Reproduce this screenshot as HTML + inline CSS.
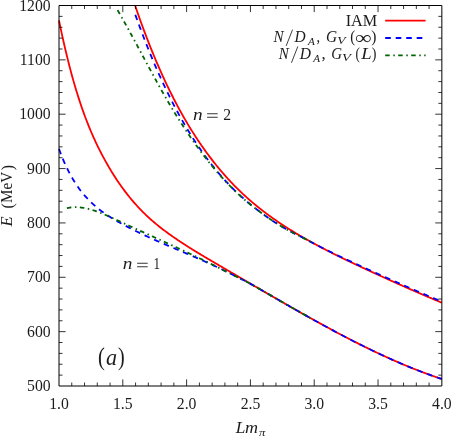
<!DOCTYPE html>
<html><head><meta charset="utf-8"><style>
html,body{margin:0;padding:0;background:#fff;}
svg{display:block;will-change:transform;}
text{font-family:"Liberation Serif",serif;font-size:15.7px;fill:#1c1c1c;}
.i{font-style:italic;}
  .s{font-size:11px;font-style:italic;}
</style></head><body>
<svg width="453" height="436" viewBox="0 0 453 436">
<rect width="453" height="436" fill="#fff"/>
<g fill="none" stroke-width="1.8" stroke-linejoin="round">
<path d="M59.00,20.49 L59.96,25.14 L60.92,29.68 L61.88,34.13 L62.84,38.49 L63.80,42.75 L64.76,46.93 L65.72,51.01 L66.68,55.00 L67.64,58.91 L68.60,62.73 L69.55,66.47 L70.51,70.13 L71.47,73.70 L72.43,77.20 L73.39,80.62 L74.35,83.96 L75.31,87.23 L76.27,90.43 L77.23,93.56 L78.19,96.61 L79.15,99.60 L80.11,102.52 L81.07,105.38 L82.03,108.18 L82.99,110.91 L83.95,113.58 L84.91,116.20 L85.87,118.75 L86.83,121.26 L87.79,123.70 L88.75,126.10 L89.70,128.45 L90.66,130.74 L91.62,132.99 L92.58,135.20 L93.54,137.36 L94.50,139.47 L95.46,141.55 L96.42,143.58 L97.38,145.58 L98.34,147.54 L99.30,149.47 L100.26,151.36 L101.22,153.22 L102.18,155.05 L103.14,156.85 L104.10,158.63 L105.06,160.38 L106.02,162.10 L106.98,163.80 L107.94,165.47 L108.90,167.12 L109.85,168.75 L110.81,170.35 L111.77,171.92 L112.73,173.47 L113.69,175.00 L114.65,176.51 L115.61,177.99 L116.57,179.46 L117.53,180.90 L118.49,182.31 L119.45,183.71 L120.41,185.09 L121.37,186.44 L122.33,187.77 L123.29,189.09 L124.25,190.38 L125.21,191.66 L126.17,192.91 L127.13,194.15 L128.09,195.36 L129.05,196.56 L130.00,197.74 L130.96,198.91 L131.92,200.05 L132.88,201.18 L133.84,202.29 L134.80,203.38 L135.76,204.46 L136.72,205.52 L137.68,206.57 L138.64,207.60 L139.60,208.61 L140.56,209.61 L141.52,210.60 L142.48,211.57 L143.44,212.53 L144.40,213.47 L145.36,214.40 L146.32,215.32 L147.28,216.22 L148.24,217.11 L149.20,217.99 L150.15,218.86 L151.11,219.72 L152.07,220.56 L153.03,221.39 L153.99,222.22 L154.95,223.03 L155.91,223.83 L156.87,224.62 L157.83,225.40 L158.79,226.18 L159.75,226.94 L160.71,227.70 L161.67,228.45 L162.63,229.18 L163.59,229.92 L164.55,230.64 L165.51,231.36 L166.47,232.07 L167.43,232.77 L168.39,233.47 L169.35,234.16 L170.30,234.84 L171.26,235.52 L172.22,236.20 L173.18,236.87 L174.14,237.53 L175.10,238.19 L176.06,238.85 L177.02,239.50 L177.98,240.15 L178.94,240.79 L179.90,241.43 L180.86,242.07 L181.82,242.70 L182.78,243.33 L183.74,243.96 L184.70,244.58 L185.66,245.20 L186.62,245.81 L187.58,246.42 L188.54,247.03 L189.50,247.64 L190.45,248.24 L191.41,248.84 L192.37,249.44 L193.33,250.03 L194.29,250.62 L195.25,251.21 L196.21,251.80 L197.17,252.39 L198.13,252.97 L199.09,253.55 L200.05,254.13 L201.01,254.71 L201.97,255.28 L202.93,255.85 L203.89,256.43 L204.85,257.00 L205.81,257.57 L206.77,258.13 L207.73,258.70 L208.69,259.27 L209.65,259.83 L210.60,260.39 L211.56,260.96 L212.52,261.52 L213.48,262.08 L214.44,262.64 L215.40,263.20 L216.36,263.76 L217.32,264.32 L218.28,264.88 L219.24,265.44 L220.20,266.00 L221.16,266.56 L222.12,267.12 L223.08,267.68 L224.04,268.24 L225.00,268.80 L225.96,269.36 L226.92,269.92 L227.88,270.48 L228.84,271.04 L229.80,271.60 L230.75,272.16 L231.71,272.72 L232.67,273.28 L233.63,273.84 L234.59,274.40 L235.55,274.97 L236.51,275.53 L237.47,276.09 L238.43,276.65 L239.39,277.21 L240.35,277.77 L241.31,278.33 L242.27,278.89 L243.23,279.45 L244.19,280.01 L245.15,280.57 L246.11,281.13 L247.07,281.69 L248.03,282.25 L248.99,282.81 L249.95,283.37 L250.90,283.93 L251.86,284.49 L252.82,285.04 L253.78,285.60 L254.74,286.16 L255.70,286.72 L256.66,287.28 L257.62,287.84 L258.58,288.40 L259.54,288.95 L260.50,289.51 L261.46,290.07 L262.42,290.63 L263.38,291.18 L264.34,291.74 L265.30,292.30 L266.26,292.85 L267.22,293.41 L268.18,293.97 L269.14,294.52 L270.10,295.08 L271.05,295.63 L272.01,296.19 L272.97,296.74 L273.93,297.30 L274.89,297.85 L275.85,298.40 L276.81,298.96 L277.77,299.51 L278.73,300.06 L279.69,300.62 L280.65,301.17 L281.61,301.72 L282.57,302.27 L283.53,302.82 L284.49,303.37 L285.45,303.92 L286.41,304.47 L287.37,305.02 L288.33,305.57 L289.29,306.12 L290.25,306.67 L291.20,307.21 L292.16,307.76 L293.12,308.31 L294.08,308.85 L295.04,309.40 L296.00,309.94 L296.96,310.49 L297.92,311.03 L298.88,311.58 L299.84,312.12 L300.80,312.66 L301.76,313.20 L302.72,313.74 L303.68,314.28 L304.64,314.82 L305.60,315.36 L306.56,315.90 L307.52,316.44 L308.48,316.97 L309.44,317.51 L310.40,318.05 L311.35,318.58 L312.31,319.11 L313.27,319.65 L314.23,320.18 L315.19,320.71 L316.15,321.24 L317.11,321.77 L318.07,322.30 L319.03,322.83 L319.99,323.36 L320.95,323.89 L321.91,324.41 L322.87,324.94 L323.83,325.46 L324.79,325.98 L325.75,326.50 L326.71,327.03 L327.67,327.55 L328.63,328.07 L329.59,328.58 L330.55,329.10 L331.50,329.62 L332.46,330.13 L333.42,330.65 L334.38,331.16 L335.34,331.67 L336.30,332.18 L337.26,332.69 L338.22,333.20 L339.18,333.71 L340.14,334.22 L341.10,334.72 L342.06,335.23 L343.02,335.73 L343.98,336.23 L344.94,336.73 L345.90,337.23 L346.86,337.73 L347.82,338.23 L348.78,338.73 L349.74,339.22 L350.70,339.71 L351.65,340.21 L352.61,340.70 L353.57,341.19 L354.53,341.68 L355.49,342.16 L356.45,342.65 L357.41,343.13 L358.37,343.62 L359.33,344.10 L360.29,344.58 L361.25,345.06 L362.21,345.54 L363.17,346.01 L364.13,346.49 L365.09,346.96 L366.05,347.43 L367.01,347.90 L367.97,348.37 L368.93,348.84 L369.89,349.30 L370.85,349.77 L371.80,350.23 L372.76,350.69 L373.72,351.15 L374.68,351.61 L375.64,352.07 L376.60,352.52 L377.56,352.98 L378.52,353.43 L379.48,353.88 L380.44,354.33 L381.40,354.77 L382.36,355.22 L383.32,355.66 L384.28,356.10 L385.24,356.54 L386.20,356.98 L387.16,357.42 L388.12,357.85 L389.08,358.29 L390.04,358.72 L391.00,359.15 L391.95,359.57 L392.91,360.00 L393.87,360.42 L394.83,360.85 L395.79,361.27 L396.75,361.69 L397.71,362.10 L398.67,362.52 L399.63,362.93 L400.59,363.34 L401.55,363.75 L402.51,364.16 L403.47,364.56 L404.43,364.96 L405.39,365.37 L406.35,365.76 L407.31,366.16 L408.27,366.56 L409.23,366.95 L410.19,367.34 L411.15,367.73 L412.10,368.12 L413.06,368.50 L414.02,368.88 L414.98,369.27 L415.94,369.64 L416.90,370.02 L417.86,370.39 L418.82,370.77 L419.78,371.14 L420.74,371.50 L421.70,371.87 L422.66,372.23 L423.62,372.59 L424.58,372.95 L425.54,373.31 L426.50,373.66 L427.46,374.02 L428.42,374.37 L429.38,374.71 L430.34,375.06 L431.30,375.40 L432.25,375.74 L433.21,376.08 L434.17,376.42 L435.13,376.75 L436.09,377.08 L437.05,377.41 L438.01,377.74 L438.97,378.06 L439.93,378.38 L440.89,378.70 L441.85,379.02" stroke="#ff0000"/>
<path d="M135.20,5.84 L135.97,8.08 L136.74,10.31 L137.51,12.52 L138.27,14.71 L139.04,16.88 L139.81,19.04 L140.58,21.18 L141.35,23.30 L142.12,25.41 L142.89,27.50 L143.65,29.57 L144.42,31.63 L145.19,33.67 L145.96,35.69 L146.73,37.70 L147.50,39.69 L148.27,41.67 L149.03,43.63 L149.80,45.57 L150.57,47.50 L151.34,49.41 L152.11,51.31 L152.88,53.19 L153.65,55.05 L154.41,56.90 L155.18,58.74 L155.95,60.56 L156.72,62.37 L157.49,64.16 L158.26,65.93 L159.02,67.69 L159.79,69.44 L160.56,71.17 L161.33,72.89 L162.10,74.60 L162.87,76.29 L163.64,77.96 L164.40,79.63 L165.17,81.28 L165.94,82.91 L166.71,84.53 L167.48,86.14 L168.25,87.74 L169.02,89.32 L169.78,90.89 L170.55,92.44 L171.32,93.99 L172.09,95.52 L172.86,97.03 L173.63,98.54 L174.40,100.03 L175.16,101.51 L175.93,102.98 L176.70,104.43 L177.47,105.88 L178.24,107.31 L179.01,108.73 L179.78,110.14 L180.54,111.53 L181.31,112.92 L182.08,114.29 L182.85,115.65 L183.62,117.00 L184.39,118.34 L185.16,119.67 L185.92,120.99 L186.69,122.29 L187.46,123.59 L188.23,124.87 L189.00,126.15 L189.77,127.41 L190.54,128.66 L191.30,129.91 L192.07,131.14 L192.84,132.36 L193.61,133.57 L194.38,134.78 L195.15,135.97 L195.92,137.15 L196.68,138.32 L197.45,139.49 L198.22,140.64 L198.99,141.78 L199.76,142.92 L200.53,144.04 L201.29,145.16 L202.06,146.27 L202.83,147.37 L203.60,148.46 L204.37,149.54 L205.14,150.61 L205.91,151.67 L206.67,152.73 L207.44,153.77 L208.21,154.81 L208.98,155.84 L209.75,156.86 L210.52,157.88 L211.29,158.88 L212.05,159.88 L212.82,160.87 L213.59,161.85 L214.36,162.83 L215.13,163.79 L215.90,164.75 L216.67,165.70 L217.43,166.64 L218.20,167.58 L218.97,168.51 L219.74,169.43 L220.51,170.34 L221.28,171.24 L222.05,172.14 L222.81,173.03 L223.58,173.92 L224.35,174.79 L225.12,175.66 L225.89,176.53 L226.66,177.38 L227.43,178.23 L228.19,179.07 L228.96,179.91 L229.73,180.73 L230.50,181.56 L231.27,182.37 L232.04,183.18 L232.81,183.98 L233.57,184.78 L234.34,185.57 L235.11,186.35 L235.88,187.13 L236.65,187.90 L237.42,188.66 L238.19,189.42 L238.95,190.17 L239.72,190.92 L240.49,191.66 L241.26,192.39 L242.03,193.12 L242.80,193.84 L243.57,194.56 L244.33,195.27 L245.10,195.98 L245.87,196.68 L246.64,197.37 L247.41,198.06 L248.18,198.75 L248.94,199.43 L249.71,200.10 L250.48,200.77 L251.25,201.43 L252.02,202.09 L252.79,202.74 L253.56,203.39 L254.32,204.04 L255.09,204.68 L255.86,205.31 L256.63,205.94 L257.40,206.57 L258.17,207.19 L258.94,207.80 L259.70,208.41 L260.47,209.02 L261.24,209.62 L262.01,210.22 L262.78,210.82 L263.55,211.41 L264.32,211.99 L265.08,212.57 L265.85,213.15 L266.62,213.73 L267.39,214.30 L268.16,214.86 L268.93,215.43 L269.70,215.98 L270.46,216.54 L271.23,217.09 L272.00,217.64 L272.77,218.18 L273.54,218.73 L274.31,219.26 L275.08,219.80 L275.84,220.33 L276.61,220.86 L277.38,221.38 L278.15,221.90 L278.92,222.42 L279.69,222.94 L280.46,223.45 L281.22,223.96 L281.99,224.47 L282.76,224.98 L283.53,225.48 L284.30,225.98 L285.07,226.48 L285.84,226.97 L286.60,227.46 L287.37,227.95 L288.14,228.44 L288.91,228.92 L289.68,229.41 L290.45,229.89 L291.21,230.37 L291.98,230.84 L292.75,231.31 L293.52,231.79 L294.29,232.25 L295.06,232.72 L295.83,233.18 L296.59,233.65 L297.36,234.11 L298.13,234.57 L298.90,235.02 L299.67,235.47 L300.44,235.93 L301.21,236.38 L301.97,236.82 L302.74,237.27 L303.51,237.71 L304.28,238.15 L305.05,238.59 L305.82,239.03 L306.59,239.47 L307.35,239.90 L308.12,240.33 L308.89,240.76 L309.66,241.19 L310.43,241.62 L311.20,242.05 L311.97,242.47 L312.73,242.89 L313.50,243.31 L314.27,243.73 L315.04,244.15 L315.81,244.56 L316.58,244.97 L317.35,245.39 L318.11,245.80 L318.88,246.21 L319.65,246.61 L320.42,247.02 L321.19,247.42 L321.96,247.83 L322.73,248.23 L323.49,248.63 L324.26,249.03 L325.03,249.42 L325.80,249.82 L326.57,250.21 L327.34,250.61 L328.11,251.00 L328.87,251.39 L329.64,251.78 L330.41,252.17 L331.18,252.56 L331.95,252.94 L332.72,253.33 L333.48,253.71 L334.25,254.09 L335.02,254.48 L335.79,254.86 L336.56,255.24 L337.33,255.62 L338.10,255.99 L338.86,256.37 L339.63,256.75 L340.40,257.12 L341.17,257.50 L341.94,257.87 L342.71,258.24 L343.48,258.61 L344.24,258.98 L345.01,259.35 L345.78,259.72 L346.55,260.09 L347.32,260.46 L348.09,260.83 L348.86,261.19 L349.62,261.56 L350.39,261.92 L351.16,262.29 L351.93,262.65 L352.70,263.02 L353.47,263.38 L354.24,263.74 L355.00,264.10 L355.77,264.46 L356.54,264.83 L357.31,265.19 L358.08,265.55 L358.85,265.91 L359.62,266.27 L360.38,266.62 L361.15,266.98 L361.92,267.34 L362.69,267.70 L363.46,268.06 L364.23,268.42 L365.00,268.77 L365.76,269.13 L366.53,269.49 L367.30,269.84 L368.07,270.20 L368.84,270.55 L369.61,270.91 L370.38,271.26 L371.14,271.62 L371.91,271.97 L372.68,272.33 L373.45,272.68 L374.22,273.03 L374.99,273.39 L375.76,273.74 L376.52,274.09 L377.29,274.44 L378.06,274.80 L378.83,275.15 L379.60,275.50 L380.37,275.85 L381.13,276.20 L381.90,276.55 L382.67,276.90 L383.44,277.25 L384.21,277.60 L384.98,277.94 L385.75,278.29 L386.51,278.64 L387.28,278.99 L388.05,279.33 L388.82,279.68 L389.59,280.03 L390.36,280.37 L391.13,280.72 L391.89,281.07 L392.66,281.41 L393.43,281.76 L394.20,282.10 L394.97,282.44 L395.74,282.79 L396.51,283.13 L397.27,283.47 L398.04,283.82 L398.81,284.16 L399.58,284.50 L400.35,284.84 L401.12,285.18 L401.89,285.52 L402.65,285.86 L403.42,286.20 L404.19,286.54 L404.96,286.88 L405.73,287.22 L406.50,287.56 L407.27,287.90 L408.03,288.24 L408.80,288.57 L409.57,288.91 L410.34,289.25 L411.11,289.58 L411.88,289.92 L412.65,290.25 L413.41,290.59 L414.18,290.92 L414.95,291.26 L415.72,291.59 L416.49,291.93 L417.26,292.26 L418.03,292.59 L418.79,292.93 L419.56,293.26 L420.33,293.59 L421.10,293.92 L421.87,294.25 L422.64,294.58 L423.40,294.91 L424.17,295.24 L424.94,295.57 L425.71,295.90 L426.48,296.23 L427.25,296.56 L428.02,296.89 L428.78,297.22 L429.55,297.54 L430.32,297.87 L431.09,298.20 L431.86,298.52 L432.63,298.85 L433.40,299.17 L434.16,299.50 L434.93,299.82 L435.70,300.15 L436.47,300.47 L437.24,300.79 L438.01,301.12 L438.78,301.44 L439.54,301.76 L440.31,302.08 L441.08,302.40 L441.85,302.72" stroke="#ff0000"/>
<path d="M59.00,148.88 L59.96,151.48 L60.92,154.00 L61.88,156.43 L62.84,158.79 L63.80,161.06 L64.76,163.27 L65.72,165.39 L66.68,167.45 L67.64,169.44 L68.60,171.36 L69.55,173.21 L70.51,175.01 L71.47,176.74 L72.43,178.41 L73.39,180.03 L74.35,181.59 L75.31,183.10 L76.27,184.56 L77.23,185.97 L78.19,187.34 L79.15,188.66 L80.11,189.94 L81.07,191.18 L82.03,192.39 L82.99,193.55 L83.95,194.69 L84.91,195.79 L85.87,196.87 L86.83,197.92 L87.79,198.94 L88.75,199.94 L89.70,200.91 L90.66,201.86 L91.62,202.79 L92.58,203.69 L93.54,204.57 L94.50,205.43 L95.46,206.27 L96.42,207.09 L97.38,207.89 L98.34,208.67 L99.30,209.43 L100.26,210.18 L101.22,210.91 L102.18,211.62 L103.14,212.32 L104.10,213.00 L105.06,213.67 L106.02,214.32 L106.98,214.97 L107.94,215.60 L108.90,216.22 L109.85,216.82 L110.81,217.42 L111.77,218.01 L112.73,218.59 L113.69,219.16 L114.65,219.73 L115.61,220.29 L116.57,220.84 L117.53,221.38 L118.49,221.93 L119.45,222.46 L120.41,223.00 L121.37,223.53 L122.33,224.05 L123.29,224.57 L124.25,225.09 L125.21,225.60 L126.17,226.11 L127.13,226.62 L128.09,227.12 L129.05,227.62 L130.00,228.11 L130.96,228.61 L131.92,229.10 L132.88,229.58 L133.84,230.06 L134.80,230.54 L135.76,231.02 L136.72,231.49 L137.68,231.96 L138.64,232.43 L139.60,232.89 L140.56,233.35 L141.52,233.81 L142.48,234.27 L143.44,234.72 L144.40,235.17 L145.36,235.62 L146.32,236.06 L147.28,236.51 L148.24,236.95 L149.20,237.39 L150.15,237.83 L151.11,238.26 L152.07,238.69 L153.03,239.13 L153.99,239.56 L154.95,239.98 L155.91,240.41 L156.87,240.83 L157.83,241.26 L158.79,241.68 L159.75,242.10 L160.71,242.52 L161.67,242.93 L162.63,243.35 L163.59,243.77 L164.55,244.18 L165.51,244.59 L166.47,245.00 L167.43,245.41 L168.39,245.82 L169.35,246.23 L170.30,246.64 L171.26,247.05 L172.22,247.46 L173.18,247.87 L174.14,248.27 L175.10,248.68 L176.06,249.08 L177.02,249.49 L177.98,249.90 L178.94,250.30 L179.90,250.71 L180.86,251.11 L181.82,251.52 L182.78,251.92 L183.74,252.33 L184.70,252.73 L185.66,253.14 L186.62,253.55 L187.58,253.96 L188.54,254.36 L189.50,254.77 L190.45,255.18 L191.41,255.59 L192.37,256.00 L193.33,256.42 L194.29,256.83 L195.25,257.24 L196.21,257.66 L197.17,258.07 L198.13,258.49 L199.09,258.91 L200.05,259.33 L201.01,259.75 L201.97,260.17 L202.93,260.60 L203.89,261.03 L204.85,261.45 L205.81,261.88 L206.77,262.31 L207.73,262.75 L208.69,263.18 L209.65,263.62 L210.60,264.06 L211.56,264.50 L212.52,264.95 L213.48,265.39 L214.44,265.84 L215.40,266.29 L216.36,266.75 L217.32,267.20 L218.28,267.66 L219.24,268.12 L220.20,268.58 L221.16,269.05 L222.12,269.52 L223.08,269.99 L224.04,270.46 L225.00,270.93 L225.96,271.41 L226.92,271.89 L227.88,272.37 L228.84,272.85 L229.80,273.34 L230.75,273.82 L231.71,274.31 L232.67,274.80 L233.63,275.28 L234.59,275.76 L235.55,276.23 L236.51,276.71 L237.47,277.18 L238.43,277.65 L239.39,278.12 L240.35,278.60 L241.31,279.08 L242.27,279.56 L243.23,280.04 L244.19,280.53 L245.15,281.02 L246.11,281.52 L247.07,282.03 L248.03,282.53 L248.99,283.05 L249.95,283.56 L250.90,284.09 L251.86,284.61 L252.82,285.14 L253.78,285.68 L254.74,286.22 L255.70,286.76 L256.66,287.31 L257.62,287.85 L258.58,288.41 L259.54,288.96 L260.50,289.51 L261.46,290.07 L262.42,290.63 L263.38,291.18 L264.34,291.74 L265.30,292.30 L266.26,292.85 L267.22,293.41 L268.18,293.97 L269.14,294.52 L270.10,295.08 L271.05,295.63 L272.01,296.19 L272.97,296.74 L273.93,297.30 L274.89,297.85 L275.85,298.40 L276.81,298.96 L277.77,299.51 L278.73,300.06 L279.69,300.62 L280.65,301.17 L281.61,301.72 L282.57,302.27 L283.53,302.82 L284.49,303.37 L285.45,303.92 L286.41,304.47 L287.37,305.02 L288.33,305.57 L289.29,306.12 L290.25,306.67 L291.20,307.21 L292.16,307.76 L293.12,308.31 L294.08,308.85 L295.04,309.40 L296.00,309.94 L296.96,310.49 L297.92,311.03 L298.88,311.58 L299.84,312.12 L300.80,312.66 L301.76,313.20 L302.72,313.74 L303.68,314.28 L304.64,314.82 L305.60,315.36 L306.56,315.90 L307.52,316.44 L308.48,316.97 L309.44,317.51 L310.40,318.05 L311.35,318.58 L312.31,319.11 L313.27,319.65 L314.23,320.18 L315.19,320.71 L316.15,321.24 L317.11,321.77 L318.07,322.30 L319.03,322.83 L319.99,323.36 L320.95,323.89 L321.91,324.41 L322.87,324.94 L323.83,325.46 L324.79,325.98 L325.75,326.50 L326.71,327.03 L327.67,327.55 L328.63,328.07 L329.59,328.58 L330.55,329.10 L331.50,329.62 L332.46,330.13 L333.42,330.65 L334.38,331.16 L335.34,331.67 L336.30,332.18 L337.26,332.69 L338.22,333.20 L339.18,333.71 L340.14,334.22 L341.10,334.72 L342.06,335.23 L343.02,335.73 L343.98,336.23 L344.94,336.73 L345.90,337.23 L346.86,337.73 L347.82,338.23 L348.78,338.73 L349.74,339.22 L350.70,339.71 L351.65,340.21 L352.61,340.70 L353.57,341.19 L354.53,341.68 L355.49,342.16 L356.45,342.65 L357.41,343.13 L358.37,343.62 L359.33,344.10 L360.29,344.58 L361.25,345.06 L362.21,345.54 L363.17,346.01 L364.13,346.49 L365.09,346.96 L366.05,347.43 L367.01,347.90 L367.97,348.37 L368.93,348.84 L369.89,349.30 L370.85,349.77 L371.80,350.23 L372.76,350.69 L373.72,351.15 L374.68,351.61 L375.64,352.07 L376.60,352.52 L377.56,352.98 L378.52,353.43 L379.48,353.88 L380.44,354.33 L381.40,354.77 L382.36,355.22 L383.32,355.66 L384.28,356.10 L385.24,356.54 L386.20,356.98 L387.16,357.42 L388.12,357.85 L389.08,358.29 L390.04,358.72 L391.00,359.15 L391.95,359.57 L392.91,360.00 L393.87,360.42 L394.83,360.85 L395.79,361.27 L396.75,361.69 L397.71,362.10 L398.67,362.52 L399.63,362.93 L400.59,363.34 L401.55,363.75 L402.51,364.16 L403.47,364.56 L404.43,364.96 L405.39,365.37 L406.35,365.76 L407.31,366.16 L408.27,366.56 L409.23,366.95 L410.19,367.34 L411.15,367.73 L412.10,368.12 L413.06,368.50 L414.02,368.88 L414.98,369.27 L415.94,369.64 L416.90,370.02 L417.86,370.39 L418.82,370.77 L419.78,371.14 L420.74,371.50 L421.70,371.87 L422.66,372.23 L423.62,372.59 L424.58,372.95 L425.54,373.31 L426.50,373.66 L427.46,374.02 L428.42,374.37 L429.38,374.71 L430.34,375.06 L431.30,375.40 L432.25,375.74 L433.21,376.08 L434.17,376.42 L435.13,376.75 L436.09,377.08 L437.05,377.41 L438.01,377.74 L438.97,378.06 L439.93,378.38 L440.89,378.70 L441.85,379.02" stroke="#0000ff" stroke-dasharray="5.6 4.9"/>
<path d="M135.30,14.68 L136.07,16.83 L136.84,18.96 L137.60,21.08 L138.37,23.18 L139.14,25.27 L139.91,27.34 L140.68,29.40 L141.45,31.45 L142.21,33.48 L142.98,35.49 L143.75,37.49 L144.52,39.47 L145.29,41.44 L146.06,43.40 L146.82,45.34 L147.59,47.27 L148.36,49.18 L149.13,51.08 L149.90,52.96 L150.67,54.84 L151.43,56.69 L152.20,58.54 L152.97,60.36 L153.74,62.18 L154.51,63.98 L155.28,65.77 L156.04,67.55 L156.81,69.31 L157.58,71.05 L158.35,72.79 L159.12,74.51 L159.89,76.22 L160.65,77.91 L161.42,79.60 L162.19,81.27 L162.96,82.92 L163.73,84.56 L164.50,86.20 L165.26,87.81 L166.03,89.42 L166.80,91.01 L167.57,92.59 L168.34,94.16 L169.11,95.71 L169.87,97.26 L170.64,98.79 L171.41,100.31 L172.18,101.81 L172.95,103.31 L173.71,104.79 L174.48,106.26 L175.25,107.72 L176.02,109.17 L176.79,110.60 L177.56,112.03 L178.32,113.44 L179.09,114.84 L179.86,116.23 L180.63,117.61 L181.40,118.98 L182.17,120.33 L182.93,121.68 L183.70,123.01 L184.47,124.33 L185.24,125.65 L186.01,126.95 L186.78,128.24 L187.54,129.52 L188.31,130.79 L189.08,132.04 L189.85,133.29 L190.62,134.53 L191.39,135.76 L192.15,136.97 L192.92,138.18 L193.69,139.38 L194.46,140.56 L195.23,141.74 L196.00,142.90 L196.76,144.06 L197.53,145.21 L198.30,146.34 L199.07,147.47 L199.84,148.59 L200.61,149.70 L201.37,150.79 L202.14,151.88 L202.91,152.96 L203.68,154.03 L204.45,155.09 L205.21,156.15 L205.98,157.19 L206.75,158.22 L207.52,159.25 L208.29,160.26 L209.06,161.27 L209.82,162.27 L210.59,163.26 L211.36,164.24 L212.13,165.21 L212.90,166.18 L213.67,167.13 L214.43,168.08 L215.20,169.02 L215.97,169.95 L216.74,170.88 L217.51,171.79 L218.28,172.70 L219.04,173.60 L219.81,174.49 L220.58,175.37 L221.35,176.25 L222.12,177.12 L222.89,177.98 L223.65,178.83 L224.42,179.68 L225.19,180.52 L225.96,181.35 L226.73,182.17 L227.50,182.99 L228.26,183.80 L229.03,184.60 L229.80,185.40 L230.57,186.19 L231.34,186.97 L232.11,187.74 L232.87,188.51 L233.64,189.27 L234.41,190.03 L235.18,190.78 L235.95,191.52 L236.72,192.26 L237.48,192.99 L238.25,193.71 L239.02,194.43 L239.79,195.14 L240.56,195.85 L241.32,196.55 L242.09,197.24 L242.86,197.93 L243.63,198.61 L244.40,199.29 L245.17,199.96 L245.93,200.63 L246.70,201.29 L247.47,201.94 L248.24,202.59 L249.01,203.24 L249.78,203.88 L250.54,204.51 L251.31,205.14 L252.08,205.76 L252.85,206.38 L253.62,206.99 L254.39,207.60 L255.15,208.21 L255.92,208.81 L256.69,209.40 L257.46,209.99 L258.23,210.57 L259.00,211.15 L259.76,211.73 L260.53,212.30 L261.30,212.87 L262.07,213.43 L262.84,213.99 L263.61,214.54 L264.37,215.09 L265.14,215.64 L265.91,216.18 L266.68,216.72 L267.45,217.25 L268.22,217.78 L268.98,218.31 L269.75,218.83 L270.52,219.35 L271.29,219.86 L272.06,220.37 L272.82,220.88 L273.59,221.38 L274.36,221.88 L275.13,222.38 L275.90,222.87 L276.67,223.36 L277.43,223.84 L278.20,224.33 L278.97,224.81 L279.74,225.28 L280.51,225.76 L281.28,226.23 L282.04,226.69 L282.81,227.16 L283.58,227.62 L284.35,228.08 L285.12,228.54 L285.89,228.98 L286.65,229.42 L287.42,229.85 L288.19,230.27 L288.96,230.69 L289.73,231.10 L290.50,231.50 L291.26,231.90 L292.03,232.29 L292.80,232.69 L293.57,233.07 L294.34,233.46 L295.11,233.84 L295.87,234.23 L296.64,234.61 L297.41,234.99 L298.18,235.37 L298.95,235.76 L299.72,236.14 L300.48,236.53 L301.25,236.91 L302.02,237.30 L302.79,237.69 L303.56,238.08 L304.33,238.47 L305.09,238.87 L305.86,239.27 L306.63,239.66 L307.40,240.07 L308.17,240.47 L308.93,240.87 L309.70,241.28 L310.47,241.69 L311.24,242.10 L312.01,242.51 L312.78,242.92 L313.54,243.34 L314.31,243.75 L315.08,244.17 L315.85,244.57 L316.62,244.97 L317.39,245.37 L318.15,245.76 L318.92,246.16 L319.69,246.55 L320.46,246.95 L321.23,247.34 L322.00,247.73 L322.76,248.11 L323.53,248.50 L324.30,248.89 L325.07,249.27 L325.84,249.65 L326.61,250.03 L327.37,250.41 L328.14,250.79 L328.91,251.17 L329.68,251.55 L330.45,251.92 L331.22,252.30 L331.98,252.67 L332.75,253.04 L333.52,253.41 L334.29,253.78 L335.06,254.15 L335.83,254.52 L336.59,254.88 L337.36,255.25 L338.13,255.61 L338.90,255.98 L339.67,256.34 L340.43,256.70 L341.20,257.06 L341.97,257.42 L342.74,257.78 L343.51,258.14 L344.28,258.50 L345.04,258.85 L345.81,259.21 L346.58,259.56 L347.35,259.92 L348.12,260.27 L348.89,260.63 L349.65,260.98 L350.42,261.33 L351.19,261.69 L351.96,262.05 L352.73,262.41 L353.50,262.76 L354.26,263.12 L355.03,263.48 L355.80,263.83 L356.57,264.19 L357.34,264.54 L358.11,264.89 L358.87,265.25 L359.64,265.60 L360.41,265.95 L361.18,266.31 L361.95,266.66 L362.72,267.01 L363.48,267.36 L364.25,267.71 L365.02,268.06 L365.79,268.42 L366.56,268.77 L367.33,269.12 L368.09,269.46 L368.86,269.81 L369.63,270.16 L370.40,270.51 L371.17,270.86 L371.94,271.21 L372.70,271.56 L373.47,271.90 L374.24,272.25 L375.01,272.60 L375.78,272.94 L376.54,273.29 L377.31,273.63 L378.08,273.98 L378.85,274.33 L379.62,274.67 L380.39,275.01 L381.15,275.36 L381.92,275.70 L382.69,276.05 L383.46,276.39 L384.23,276.73 L385.00,277.07 L385.76,277.41 L386.53,277.76 L387.30,278.10 L388.07,278.44 L388.84,278.78 L389.61,279.12 L390.37,279.46 L391.14,279.80 L391.91,280.14 L392.68,280.48 L393.45,280.81 L394.22,281.15 L394.98,281.49 L395.75,281.83 L396.52,282.16 L397.29,282.50 L398.06,282.84 L398.83,283.17 L399.59,283.51 L400.36,283.85 L401.13,284.19 L401.90,284.52 L402.67,284.86 L403.44,285.20 L404.20,285.54 L404.97,285.88 L405.74,286.21 L406.51,286.55 L407.28,286.89 L408.04,287.22 L408.81,287.56 L409.58,287.89 L410.35,288.23 L411.12,288.56 L411.89,288.90 L412.65,289.23 L413.42,289.56 L414.19,289.89 L414.96,290.23 L415.73,290.56 L416.50,290.89 L417.26,291.22 L418.03,291.55 L418.80,291.88 L419.57,292.21 L420.34,292.54 L421.11,292.87 L421.87,293.20 L422.64,293.53 L423.41,293.86 L424.18,294.19 L424.95,294.52 L425.72,294.84 L426.48,295.17 L427.25,295.50 L428.02,295.82 L428.79,296.15 L429.56,296.47 L430.33,296.80 L431.09,297.12 L431.86,297.45 L432.63,297.77 L433.40,298.09 L434.17,298.42 L434.94,298.74 L435.70,299.06 L436.47,299.38 L437.24,299.70 L438.01,300.03 L438.78,300.35 L439.55,300.67 L440.31,300.99 L441.08,301.31 L441.85,301.62" stroke="#0000ff" stroke-dasharray="5.6 4.9"/>
<path d="M66.90,208.17 L67.52,208.03 L68.13,207.91 L68.75,207.79 L69.36,207.69 L69.98,207.60 L70.59,207.51 L71.21,207.44 L71.82,207.38 L72.44,207.32 L73.06,207.28 L73.67,207.25 L74.29,207.22 L74.90,207.21 L75.52,207.20 L76.13,207.20 L76.75,207.21 L77.36,207.23 L77.98,207.26 L78.60,207.30 L79.21,207.34 L79.83,207.40 L80.44,207.46 L81.06,207.53 L81.67,207.60 L82.29,207.69 L82.90,207.78 L83.52,207.88 L84.14,207.98 L84.75,208.09 L85.37,208.21 L85.98,208.34 L86.60,208.47 L87.21,208.61 L87.83,208.75 L88.44,208.90 L89.06,209.06 L89.67,209.22 L90.29,209.39 L90.91,209.56 L91.52,209.74 L92.14,209.92 L92.75,210.11 L93.37,210.31 L93.98,210.50 L94.60,210.71 L95.21,210.91 L95.83,211.12 L96.45,211.34 L97.06,211.56 L97.68,211.78 L98.29,212.01 L98.91,212.24 L99.52,212.47 L100.14,212.71 L100.75,212.95 L101.37,213.20 L101.99,213.45 L102.60,213.70 L103.22,213.95 L103.83,214.21 L104.45,214.47 L105.06,214.73 L105.68,214.99 L106.29,215.26 L106.91,215.53 L107.53,215.80 L108.14,216.07 L108.76,216.34 L109.37,216.62 L109.99,216.90 L110.60,217.17 L111.22,217.45 L111.83,217.73 L112.45,218.02 L113.07,218.30 L113.68,218.58 L114.30,218.87 L114.91,219.15 L115.53,219.44 L116.14,219.73 L116.76,220.01 L117.37,220.30 L117.99,220.58 L118.61,220.87 L119.22,221.16 L119.84,221.44 L120.45,221.73 L121.07,222.01 L121.68,222.30 L122.30,222.58 L122.91,222.87 L123.53,223.15 L124.15,223.44 L124.76,223.72 L125.38,224.01 L125.99,224.29 L126.61,224.57 L127.22,224.86 L127.84,225.14 L128.45,225.42 L129.07,225.71 L129.68,225.99 L130.30,226.27 L130.92,226.56 L131.53,226.84 L132.15,227.12 L132.76,227.40 L133.38,227.69 L133.99,227.97 L134.61,228.25 L135.22,228.53 L135.84,228.82 L136.46,229.10 L137.07,229.38 L137.69,229.66 L138.30,229.94 L138.92,230.22 L139.53,230.51 L140.15,230.79 L140.76,231.07 L141.38,231.35 L142.00,231.63 L142.61,231.91 L143.23,232.19 L143.84,232.47 L144.46,232.76 L145.07,233.04 L145.69,233.32 L146.30,233.60 L146.92,233.88 L147.54,234.16 L148.15,234.44 L148.77,234.72 L149.38,235.00 L150.00,235.29 L150.61,235.57 L151.23,235.85 L151.84,236.13 L152.46,236.41 L153.08,236.69 L153.69,236.97 L154.31,237.25 L154.92,237.53 L155.54,237.82 L156.15,238.10 L156.77,238.38 L157.38,238.66 L158.00,238.94 L158.62,239.22 L159.23,239.51 L159.85,239.79 L160.46,240.07 L161.08,240.35 L161.69,240.63 L162.31,240.91 L162.92,241.20 L163.54,241.48 L164.16,241.76 L164.77,242.04 L165.39,242.33 L166.00,242.61 L166.62,242.89 L167.23,243.18 L167.85,243.46 L168.46,243.74 L169.08,244.03 L169.69,244.31 L170.31,244.59 L170.93,244.88 L171.54,245.16 L172.16,245.44 L172.77,245.73 L173.39,246.01 L174.00,246.30 L174.62,246.58 L175.23,246.87 L175.85,247.15 L176.47,247.44 L177.08,247.72 L177.70,248.01 L178.31,248.30 L178.93,248.58 L179.54,248.87 L180.16,249.15 L180.77,249.44 L181.39,249.73 L182.01,250.02 L182.62,250.30 L183.24,250.59 L183.85,250.88 L184.47,251.17 L185.08,251.46 L185.70,251.74 L186.31,252.03 L186.93,252.32 L187.55,252.61 L188.16,252.90 L188.78,253.19 L189.39,253.48 L190.01,253.77 L190.62,254.06 L191.24,254.36 L191.85,254.65 L192.47,254.94 L193.09,255.23 L193.70,255.52 L194.32,255.82 L194.93,256.11 L195.55,256.40 L196.16,256.70 L196.78,256.99 L197.39,257.29 L198.01,257.58 L198.63,257.88 L199.24,258.17 L199.86,258.47 L200.47,258.76 L201.09,259.06 L201.70,259.36 L202.32,259.65 L202.93,259.95 L203.55,260.25 L204.17,260.55 L204.78,260.85 L205.40,261.15 L206.01,261.45 L206.63,261.75 L207.24,262.05 L207.86,262.35 L208.47,262.65 L209.09,262.95 L209.71,263.25 L210.32,263.55 L210.94,263.86 L211.55,264.16 L212.17,264.46 L212.78,264.77 L213.40,265.08 L214.01,265.38 L214.63,265.69 L215.24,266.00 L215.86,266.31 L216.48,266.62 L217.09,266.93 L217.71,267.24 L218.32,267.55 L218.94,267.86 L219.55,268.17 L220.17,268.49 L220.78,268.80 L221.40,269.11 L222.02,269.42 L222.63,269.73 L223.25,270.04 L223.86,270.35 L224.48,270.66 L225.09,270.97 L225.71,271.28 L226.32,271.59 L226.94,271.90 L227.56,272.21 L228.17,272.52 L228.79,272.83 L229.40,273.14 L230.02,273.45 L230.63,273.77 L231.25,274.08 L231.86,274.39 L232.48,274.71 L233.10,275.02 L233.71,275.32 L234.33,275.63 L234.94,275.93 L235.56,276.24 L236.17,276.54 L236.79,276.84 L237.40,277.14 L238.02,277.45 L238.64,277.75 L239.25,278.05 L239.87,278.36 L240.48,278.66 L241.10,278.97 L241.71,279.28 L242.33,279.59 L242.94,279.90 L243.56,280.21 L244.18,280.52 L244.79,280.84 L245.41,281.16 L246.02,281.48 L246.64,281.80 L247.25,282.12 L247.87,282.45 L248.48,282.78 L249.10,283.11 L249.72,283.44 L250.33,283.77 L250.95,284.11 L251.56,284.45 L252.18,284.79 L252.79,285.13 L253.41,285.47 L254.02,285.81 L254.64,286.16 L255.25,286.51 L255.87,286.86 L256.49,287.21 L257.10,287.56 L257.72,287.91 L258.33,288.26 L258.95,288.62 L259.56,288.97 L260.18,289.33 L260.79,289.68 L261.41,290.04 L262.03,290.40 L262.64,290.76 L263.26,291.11 L263.87,291.47 L264.49,291.83 L265.10,292.19 L265.72,292.54 L266.33,292.90 L266.95,293.26 L267.57,293.61 L268.18,293.97 L268.80,294.33 L269.41,294.68 L270.03,295.04 L270.64,295.40 L271.26,295.75 L271.87,296.11 L272.49,296.46 L273.11,296.82 L273.72,297.17 L274.34,297.53 L274.95,297.89 L275.57,298.24 L276.18,298.60 L276.80,298.95 L277.41,299.31 L278.03,299.66 L278.65,300.01 L279.26,300.37 L279.88,300.72 L280.49,301.08 L281.11,301.43 L281.72,301.78 L282.34,302.14 L282.95,302.49 L283.57,302.85 L284.19,303.20 L284.80,303.55 L285.42,303.90 L286.03,304.26 L286.65,304.61 L287.26,304.96 L287.88,305.31 L288.49,305.67 L289.11,306.02 L289.73,306.37 L290.34,306.72 L290.96,307.07 L291.57,307.42 L292.19,307.77 L292.80,308.12 L293.42,308.48 L294.03,308.83 L294.65,309.18 L295.26,309.53 L295.88,309.88 L296.50,310.22 L297.11,310.57 L297.73,310.92 L298.34,311.27 L298.96,311.62 L299.57,311.97 L300.19,312.32 L300.80,312.66 L301.42,313.01 L302.04,313.36 L302.65,313.70 L303.27,314.05 L303.88,314.40 L304.50,314.74 L305.11,315.09 L305.73,315.44 L306.34,315.78 L306.96,316.13 L307.58,316.47 L308.19,316.82 L308.81,317.16 L309.42,317.50 L310.04,317.85 L310.65,318.19 L311.27,318.53 L311.88,318.88 L312.50,319.22" stroke="#006400" stroke-dasharray="4.5 3.6 1.5 3.4"/>
<path d="M117.60,10.15 L118.09,11.00 L118.58,11.85 L119.07,12.70 L119.55,13.55 L120.04,14.41 L120.53,15.26 L121.02,16.12 L121.51,16.99 L122.00,17.85 L122.48,18.72 L122.97,19.59 L123.46,20.46 L123.95,21.33 L124.44,22.20 L124.93,23.08 L125.42,23.96 L125.90,24.84 L126.39,25.72 L126.88,26.60 L127.37,27.49 L127.86,28.38 L128.35,29.26 L128.83,30.15 L129.32,31.04 L129.81,31.94 L130.30,32.83 L130.79,33.72 L131.28,34.62 L131.77,35.52 L132.25,36.41 L132.74,37.31 L133.23,38.21 L133.72,39.12 L134.21,40.02 L134.70,40.92 L135.18,41.82 L135.67,42.73 L136.16,43.63 L136.65,44.54 L137.14,45.44 L137.63,46.35 L138.12,47.26 L138.60,48.17 L139.09,49.07 L139.58,49.98 L140.07,50.89 L140.56,51.80 L141.05,52.71 L141.54,53.62 L142.02,54.53 L142.51,55.44 L143.00,56.35 L143.49,57.25 L143.98,58.16 L144.47,59.07 L144.95,59.98 L145.44,60.89 L145.93,61.80 L146.42,62.70 L146.91,63.61 L147.40,64.52 L147.89,65.42 L148.37,66.33 L148.86,67.23 L149.35,68.14 L149.84,69.04 L150.33,69.94 L150.82,70.84 L151.30,71.74 L151.79,72.64 L152.28,73.54 L152.77,74.44 L153.26,75.33 L153.75,76.23 L154.24,77.12 L154.72,78.02 L155.21,78.91 L155.70,79.80 L156.19,80.69 L156.68,81.57 L157.17,82.46 L157.65,83.34 L158.14,84.22 L158.63,85.10 L159.12,85.98 L159.61,86.86 L160.10,87.74 L160.59,88.61 L161.07,89.48 L161.56,90.35 L162.05,91.22 L162.54,92.08 L163.03,92.95 L163.52,93.81 L164.00,94.66 L164.49,95.52 L164.98,96.37 L165.47,97.23 L165.96,98.07 L166.45,98.92 L166.94,99.77 L167.42,100.61 L167.91,101.45 L168.40,102.28 L168.89,103.11 L169.38,103.94 L169.87,104.77 L170.35,105.60 L170.84,106.42 L171.33,107.24 L171.82,108.05 L172.31,108.87 L172.80,109.68 L173.29,110.49 L173.77,111.29 L174.26,112.09 L174.75,112.89 L175.24,113.69 L175.73,114.49 L176.22,115.28 L176.71,116.07 L177.19,116.85 L177.68,117.64 L178.17,118.42 L178.66,119.19 L179.15,119.97 L179.64,120.74 L180.12,121.51 L180.61,122.28 L181.10,123.04 L181.59,123.80 L182.08,124.56 L182.57,125.32 L183.06,126.07 L183.54,126.82 L184.03,127.57 L184.52,128.31 L185.01,129.05 L185.50,129.79 L185.99,130.53 L186.47,131.26 L186.96,131.99 L187.45,132.72 L187.94,133.45 L188.43,134.17 L188.92,134.89 L189.41,135.61 L189.89,136.32 L190.38,137.04 L190.87,137.75 L191.36,138.45 L191.85,139.16 L192.34,139.86 L192.82,140.56 L193.31,141.25 L193.80,141.95 L194.29,142.64 L194.78,143.33 L195.27,144.01 L195.76,144.69 L196.24,145.37 L196.73,146.05 L197.22,146.73 L197.71,147.40 L198.20,148.07 L198.69,148.73 L199.17,149.40 L199.66,150.06 L200.15,150.72 L200.64,151.37 L201.13,152.03 L201.62,152.68 L202.11,153.32 L202.59,153.97 L203.08,154.61 L203.57,155.25 L204.06,155.89 L204.55,156.52 L205.04,157.16 L205.52,157.79 L206.01,158.41 L206.50,159.04 L206.99,159.66 L207.48,160.28 L207.97,160.89 L208.46,161.51 L208.94,162.12 L209.43,162.73 L209.92,163.33 L210.41,163.93 L210.90,164.53 L211.39,165.13 L211.87,165.73 L212.36,166.32 L212.85,166.91 L213.34,167.50 L213.83,168.08 L214.32,168.66 L214.81,169.24 L215.29,169.82 L215.78,170.40 L216.27,170.97 L216.76,171.54 L217.25,172.10 L217.74,172.67 L218.23,173.23 L218.71,173.79 L219.20,174.34 L219.69,174.90 L220.18,175.45 L220.67,176.00 L221.16,176.54 L221.64,177.09 L222.13,177.63 L222.62,178.17 L223.11,178.70 L223.60,179.23 L224.09,179.76 L224.58,180.29 L225.06,180.82 L225.55,181.34 L226.04,181.86 L226.53,182.38 L227.02,182.89 L227.51,183.41 L227.99,183.92 L228.48,184.42 L228.97,184.93 L229.46,185.43 L229.95,185.93 L230.44,186.43 L230.93,186.92 L231.41,187.42 L231.90,187.91 L232.39,188.39 L232.88,188.88 L233.37,189.36 L233.86,189.84 L234.34,190.32 L234.83,190.79 L235.32,191.26 L235.81,191.73 L236.30,192.20 L236.79,192.67 L237.28,193.13 L237.76,193.59 L238.25,194.05 L238.74,194.50 L239.23,194.95 L239.72,195.40 L240.21,195.85 L240.69,196.29 L241.18,196.73 L241.67,197.17 L242.16,197.60 L242.65,198.03 L243.14,198.46 L243.63,198.89 L244.11,199.31 L244.60,199.73 L245.09,200.15 L245.58,200.56 L246.07,200.98 L246.56,201.39 L247.04,201.80 L247.53,202.20 L248.02,202.61 L248.51,203.01 L249.00,203.41 L249.49,203.80 L249.98,204.20 L250.46,204.59 L250.95,204.98 L251.44,205.37 L251.93,205.76 L252.42,206.14 L252.91,206.53 L253.39,206.91 L253.88,207.29 L254.37,207.67 L254.86,208.04 L255.35,208.42 L255.84,208.79 L256.33,209.16 L256.81,209.53 L257.30,209.90 L257.79,210.27 L258.28,210.63 L258.77,211.00 L259.26,211.36 L259.75,211.72 L260.23,212.09 L260.72,212.45 L261.21,212.80 L261.70,213.16 L262.19,213.52 L262.68,213.87 L263.16,214.23 L263.65,214.58 L264.14,214.93 L264.63,215.28 L265.12,215.62 L265.61,215.97 L266.10,216.31 L266.58,216.65 L267.07,216.99 L267.56,217.33 L268.05,217.67 L268.54,218.00 L269.03,218.33 L269.51,218.67 L270.00,219.00 L270.49,219.33 L270.98,219.65 L271.47,219.98 L271.96,220.30 L272.45,220.63 L272.93,220.95 L273.42,221.27 L273.91,221.59 L274.40,221.90 L274.89,222.22 L275.38,222.53 L275.86,222.85 L276.35,223.16 L276.84,223.47 L277.33,223.78 L277.82,224.09 L278.31,224.39 L278.80,224.70 L279.28,225.00 L279.77,225.30 L280.26,225.61 L280.75,225.91 L281.24,226.20 L281.73,226.50 L282.21,226.80 L282.70,227.09 L283.19,227.39 L283.68,227.68 L284.17,227.97 L284.66,228.26 L285.15,228.55 L285.63,228.84 L286.12,229.12 L286.61,229.40 L287.10,229.67 L287.59,229.94 L288.08,230.21 L288.56,230.48 L289.05,230.74 L289.54,231.00 L290.03,231.26 L290.52,231.51 L291.01,231.77 L291.50,232.02 L291.98,232.27 L292.47,232.52 L292.96,232.77 L293.45,233.01 L293.94,233.26 L294.43,233.50 L294.92,233.75 L295.40,233.99 L295.89,234.24 L296.38,234.48 L296.87,234.72 L297.36,234.97 L297.85,235.21 L298.33,235.45 L298.82,235.70 L299.31,235.94 L299.80,236.18 L300.29,236.43 L300.78,236.67 L301.27,236.92 L301.75,237.16 L302.24,237.41 L302.73,237.66 L303.22,237.91 L303.71,238.16 L304.20,238.41 L304.68,238.66 L305.17,238.91 L305.66,239.16 L306.15,239.41 L306.64,239.67 L307.13,239.92 L307.62,240.18 L308.10,240.44 L308.59,240.69 L309.08,240.95 L309.57,241.21 L310.06,241.47 L310.55,241.73 L311.03,241.99 L311.52,242.25 L312.01,242.51 L312.50,242.77" stroke="#006400" stroke-dasharray="4.5 3.6 1.5 3.4"/>
<path d="M385.2,20.7 H425.6" stroke="#ff0000"/>
<path d="M385.2,38 H425.6" stroke="#0000ff" stroke-dasharray="5.6 4.9"/>
<path d="M385.2,55.3 H425.6" stroke="#006400" stroke-dasharray="4.5 3.6 1.5 3.4"/>
</g>
<path d="M71.76,386.0 v-3.5 M71.76,5.5 v3.5 M84.52,386.0 v-3.5 M84.52,5.5 v3.5 M97.28,386.0 v-3.5 M97.28,5.5 v3.5 M110.05,386.0 v-3.5 M110.05,5.5 v3.5 M122.81,386.0 v-6.6 M122.81,5.5 v6.6 M135.57,386.0 v-3.5 M135.57,5.5 v3.5 M148.33,386.0 v-3.5 M148.33,5.5 v3.5 M161.09,386.0 v-3.5 M161.09,5.5 v3.5 M173.86,386.0 v-3.5 M173.86,5.5 v3.5 M186.62,386.0 v-6.6 M186.62,5.5 v6.6 M199.38,386.0 v-3.5 M199.38,5.5 v3.5 M212.14,386.0 v-3.5 M212.14,5.5 v3.5 M224.90,386.0 v-3.5 M224.90,5.5 v3.5 M237.66,386.0 v-3.5 M237.66,5.5 v3.5 M250.43,386.0 v-6.6 M250.43,5.5 v6.6 M263.19,386.0 v-3.5 M263.19,5.5 v3.5 M275.95,386.0 v-3.5 M275.95,5.5 v3.5 M288.71,386.0 v-3.5 M288.71,5.5 v3.5 M301.47,386.0 v-3.5 M301.47,5.5 v3.5 M314.23,386.0 v-6.6 M314.23,5.5 v6.6 M327.00,386.0 v-3.5 M327.00,5.5 v3.5 M339.76,386.0 v-3.5 M339.76,5.5 v3.5 M352.52,386.0 v-3.5 M352.52,5.5 v3.5 M365.28,386.0 v-3.5 M365.28,5.5 v3.5 M378.04,386.0 v-6.6 M378.04,5.5 v6.6 M390.80,386.0 v-3.5 M390.80,5.5 v3.5 M403.57,386.0 v-3.5 M403.57,5.5 v3.5 M416.33,386.0 v-3.5 M416.33,5.5 v3.5 M429.09,386.0 v-3.5 M429.09,5.5 v3.5 M59.0,375.13 h3.5 M441.85,375.13 h-3.5 M59.0,364.26 h3.5 M441.85,364.26 h-3.5 M59.0,353.39 h3.5 M441.85,353.39 h-3.5 M59.0,342.51 h3.5 M441.85,342.51 h-3.5 M59.0,331.64 h6.6 M441.85,331.64 h-6.6 M59.0,320.77 h3.5 M441.85,320.77 h-3.5 M59.0,309.90 h3.5 M441.85,309.90 h-3.5 M59.0,299.03 h3.5 M441.85,299.03 h-3.5 M59.0,288.16 h3.5 M441.85,288.16 h-3.5 M59.0,277.29 h6.6 M441.85,277.29 h-6.6 M59.0,266.41 h3.5 M441.85,266.41 h-3.5 M59.0,255.54 h3.5 M441.85,255.54 h-3.5 M59.0,244.67 h3.5 M441.85,244.67 h-3.5 M59.0,233.80 h3.5 M441.85,233.80 h-3.5 M59.0,222.93 h6.6 M441.85,222.93 h-6.6 M59.0,212.06 h3.5 M441.85,212.06 h-3.5 M59.0,201.19 h3.5 M441.85,201.19 h-3.5 M59.0,190.31 h3.5 M441.85,190.31 h-3.5 M59.0,179.44 h3.5 M441.85,179.44 h-3.5 M59.0,168.57 h6.6 M441.85,168.57 h-6.6 M59.0,157.70 h3.5 M441.85,157.70 h-3.5 M59.0,146.83 h3.5 M441.85,146.83 h-3.5 M59.0,135.96 h3.5 M441.85,135.96 h-3.5 M59.0,125.09 h3.5 M441.85,125.09 h-3.5 M59.0,114.21 h6.6 M441.85,114.21 h-6.6 M59.0,103.34 h3.5 M441.85,103.34 h-3.5 M59.0,92.47 h3.5 M441.85,92.47 h-3.5 M59.0,81.60 h3.5 M441.85,81.60 h-3.5 M59.0,70.73 h3.5 M441.85,70.73 h-3.5 M59.0,59.86 h6.6 M441.85,59.86 h-6.6 M59.0,48.99 h3.5 M441.85,48.99 h-3.5 M59.0,38.11 h3.5 M441.85,38.11 h-3.5 M59.0,27.24 h3.5 M441.85,27.24 h-3.5 M59.0,16.37 h3.5 M441.85,16.37 h-3.5" stroke="#000" stroke-width="0.8" fill="none"/>
<rect x="59.0" y="5.5" width="382.85" height="380.5" fill="none" stroke="#000" stroke-width="1" stroke-linejoin="round"/>
<g><text x="50.6" y="391.20" text-anchor="end">500</text><text x="50.6" y="336.84" text-anchor="end">600</text><text x="50.6" y="282.49" text-anchor="end">700</text><text x="50.6" y="228.13" text-anchor="end">800</text><text x="50.6" y="173.77" text-anchor="end">900</text><text x="50.6" y="119.41" text-anchor="end">1000</text><text x="50.6" y="65.06" text-anchor="end">1100</text><text x="50.6" y="10.70" text-anchor="end">1200</text><text x="59.00" y="408.6" text-anchor="middle">1.0</text><text x="122.81" y="408.6" text-anchor="middle">1.5</text><text x="186.62" y="408.6" text-anchor="middle">2.0</text><text x="250.43" y="408.6" text-anchor="middle">2.5</text><text x="314.23" y="408.6" text-anchor="middle">3.0</text><text x="378.04" y="408.6" text-anchor="middle">3.5</text><text x="441.85" y="408.6" text-anchor="middle">4.0</text></g>
<text transform="translate(345.68,25.80) scale(1.035,1)" style="font-size:15.7px">IAM</text>
<text transform="translate(273.54,42.30) scale(0.965,1)" class="i" style="font-size:15.7px">N</text>
<text transform="translate(294.55,42.30) scale(0.983,1)" class="i" style="font-size:15.7px">D</text>
<text transform="translate(308.06,44.80) scale(1.013,1)" class="i" style="font-size:11.0px">A</text>
<text transform="translate(316.44,42.30) scale(0.920,1)" style="font-size:15.7px">,</text>
<text transform="translate(325.96,42.30) scale(0.985,1)" class="i" style="font-size:15.7px">G</text>
<text transform="translate(337.19,44.20) scale(1.228,1)" class="i" style="font-size:11.0px">V</text>
<text transform="translate(350.15,42.30) scale(0.867,1)" style="font-size:17.0px">(</text>
<text transform="translate(354.78,44.20) scale(1.233,1)" style="font-size:19.0px">∞</text>
<text transform="translate(371.34,42.30) scale(0.911,1)" style="font-size:17.0px">)</text>
<text transform="translate(278.84,59.10) scale(0.957,1)" class="i" style="font-size:15.7px">N</text>
<text transform="translate(299.85,59.10) scale(0.991,1)" class="i" style="font-size:15.7px">D</text>
<text transform="translate(313.36,61.70) scale(1.013,1)" class="i" style="font-size:11.0px">A</text>
<text transform="translate(321.56,59.10) scale(1.080,1)" style="font-size:15.7px">,</text>
<text transform="translate(331.18,59.10) scale(0.956,1)" class="i" style="font-size:15.7px">G</text>
<text transform="translate(342.04,61.10) scale(1.310,1)" class="i" style="font-size:11.0px">V</text>
<text transform="translate(355.52,59.10) scale(0.778,1)" style="font-size:17.0px">(</text>
<text transform="translate(361.30,59.10) scale(1.188,1)" class="i" style="font-size:15.7px">L</text>
<text transform="translate(371.79,59.10) scale(0.822,1)" style="font-size:17.0px">)</text>
<text transform="translate(192.89,119.60) scale(1.230,1)" class="i" style="font-size:15.7px">n</text>
<text transform="translate(223.20,119.60) scale(1.000,1)" style="font-size:15.7px">2</text>
<text transform="translate(122.69,269.10) scale(1.230,1)" class="i" style="font-size:15.7px">n</text>
<text transform="translate(153.46,269.10) scale(0.835,1)" style="font-size:15.7px">1</text>
<text transform="translate(98.00,364.60) scale(0.800,1)" style="font-size:25.7px">(</text>
<text transform="translate(106.11,364.60) scale(0.924,1)" class="i" style="font-size:24.0px">a</text>
<text transform="translate(118.11,364.60) scale(0.785,1)" style="font-size:25.7px">)</text>
<text transform="translate(235.68,433.00) scale(1.103,1)" class="i" style="font-size:15.7px">L</text>
<text transform="translate(245.12,433.00) scale(1.151,1)" class="i" style="font-size:15.7px">m</text>
<text transform="translate(259.10,436.10) scale(1.148,1)" class="i" style="font-size:11.0px">π</text>
<g transform="translate(12.3,227) rotate(-90)"><text transform="translate(0.46,0.00) scale(1.056,1)" class="i" style="font-size:15.7px">E</text>
<text transform="translate(18.50,0.80) scale(0.933,1)" style="font-size:17.0px">(</text>
<text transform="translate(24.02,0.00) scale(0.967,1)" style="font-size:15.7px">MeV</text>
<text transform="translate(56.83,0.80) scale(0.933,1)" style="font-size:17.0px">)</text></g>
<g stroke="#000" stroke-width="0.75" fill="none" stroke-linecap="round">
<path d="M286.3,45.6 L292.4,30.0 M291.6,62.4 L297.7,46.8"/>
<path d="M207.1,113.75 H217.7 M207.1,117.25 H217.7 M137.1,263.25 H147.7 M137.1,266.75 H147.7" stroke-linecap="butt" stroke-width="0.8"/>
</g>
</svg>
</body></html>
